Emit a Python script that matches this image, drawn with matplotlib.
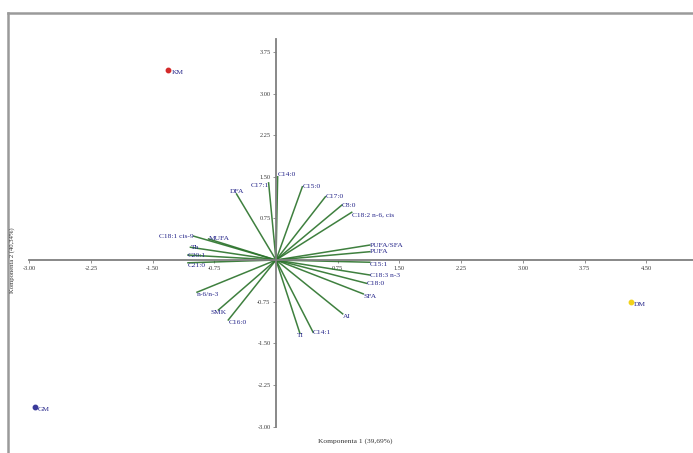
import matplotlib
matplotlib.use("Agg")
import matplotlib.pyplot as plt
import numpy as np
from matplotlib.lines import Line2D

# sample scores (Komponenta 1, Komponenta 2)
samples = ["KM", "GM", "DM"]
sample_x = [-1.31, -2.93, 4.31]
sample_y = [3.42, -2.65, -0.76]
sample_colors = ["#d42a2a", "#3a3a9a", "#f2d21a"]

# variable loadings (biplot vectors)
variables = ["DFA", "C17:1", "C14:0", "C15:0", "C17:0", "C8:0", "C18:2 n-6, cis",
             "PUFA/SFA", "PUFA", "C15:1", "C18:3 n-3", "C18:0", "SFA", "AI",
             "C14:1", "TI", "C16:0", "SMK", "n-6/n-3", "C21:0", "C20:1", "Th",
             "MUFA", "C18:1 cis-9"]
load_x = [-0.48, -0.09, 0.02, 0.32, 0.60, 0.80, 0.92,
          1.14, 1.14, 1.14, 1.14, 1.10, 1.06, 0.81,
          0.45, 0.29, -0.58, -0.70, -0.96, -1.07, -1.07, -1.04,
          -0.82, -1.00]
load_y = [1.19, 1.39, 1.50, 1.32, 1.14, 0.99, 0.86,
          0.27, 0.15, -0.04, -0.27, -0.42, -0.61, -0.97,
          -1.30, -1.32, -1.08, -0.90, -0.58, -0.05, 0.09, 0.23,
          0.38, 0.43]

ticks = np.arange(-3.0, 4.51, 0.75)
yticks = np.arange(-3.0, 3.76, 0.75)

# label alignment per variable
align = {
    "DFA": ("center", "bottom"), "C17:1": ("right", "top"), "C14:0": ("left", "bottom"),
    "C15:0": ("left", "center"), "C17:0": ("left", "center"), "C8:0": ("left", "center"),
    "C18:2 n-6, cis": ("left", "top"), "PUFA/SFA": ("left", "center"), "PUFA": ("left", "center"),
    "C15:1": ("left", "top"), "C18:3 n-3": ("left", "center"), "C18:0": ("left", "center"),
    "SFA": ("left", "top"), "AI": ("left", "top"), "C14:1": ("left", "center"),
    "TI": ("center", "top"), "C16:0": ("left", "top"), "SMK": ("center", "top"),
    "n-6/n-3": ("left", "top"), "C21:0": ("left", "top"), "C20:1": ("left", "center"),
    "Th": ("left", "center"), "MUFA": ("left", "center"), "C18:1 cis-9": ("right", "center"),
}

plt.rcParams["font.family"] = ["Liberation Serif", "DejaVu Serif"]
navy = "#26268a"
green = "#2a722a"

fig = plt.figure(figsize=(6.93, 4.53), dpi=100)
ax = fig.add_axes([0, 0, 1, 1])
ax.set_xlim(-3.354, 5.067)
ax.set_ylim(-3.477, 4.685)
ax.patch.set_alpha(0)

# axes through origin
for s in ["top", "right"]:
    ax.spines[s].set_visible(False)
ax.spines["left"].set_position(("data", 0))
ax.spines["bottom"].set_position(("data", 0))
ax.spines["left"].set_bounds(-3.0, 3.98)
ax.spines["bottom"].set_bounds(-3.0, 5.07)
for s in ["left", "bottom"]:
    ax.spines[s].set_color("#7f7f7f")
    ax.spines[s].set_linewidth(1.3)

ax.set_xticks(ticks)
ax.set_xticklabels(["%.2f" % t if abs(t) > 1e-9 else "" for t in ticks])
ax.set_yticks(yticks)
ax.set_yticklabels(["%.2f" % t if abs(t) > 1e-9 else "" for t in yticks])
ax.tick_params(axis="both", length=2.5, width=0.6, color="#7f7f7f",
               labelsize=4.6, labelcolor="#3a3a3a", pad=1.5)

# loading vectors
for name, lx, ly in zip(variables, load_x, load_y):
    ax.plot([0, lx], [0, ly], color=green, lw=1.1, alpha=0.9, zorder=2)
    ha, va = align[name]
    ax.text(lx, ly, name, fontsize=5.4, color=navy, ha=ha, va=va, zorder=3)

# sample scores
for name, sx, sy, c in zip(samples, sample_x, sample_y, sample_colors):
    ax.plot(sx, sy, "o", ms=3.2, color=c, zorder=4)
    ax.text(sx + 0.04, sy - 0.04, name, fontsize=5.4, color=navy, ha="left", va="center", zorder=4)

# axis titles
fig.text(355 / 693, 1 - 441 / 453, "Komponenta 1 (39,69%)", fontsize=5.4, color="#333333",
         ha="center", va="center")
fig.text(12 / 693, 1 - 260 / 453, "Komponenta 2 (40,34%)", fontsize=4.8, color="#333333",
         ha="center", va="center", rotation=90)

# outer frame (left and top visible)
fig.add_artist(Line2D([8 / 693, 8 / 693], [0, 1 - 13 / 453], color="#9a9a9a", lw=1.8))
fig.add_artist(Line2D([8 / 693, 1], [1 - 13 / 453, 1 - 13 / 453], color="#9a9a9a", lw=1.8))

fig.savefig("out.png", dpi=100)
